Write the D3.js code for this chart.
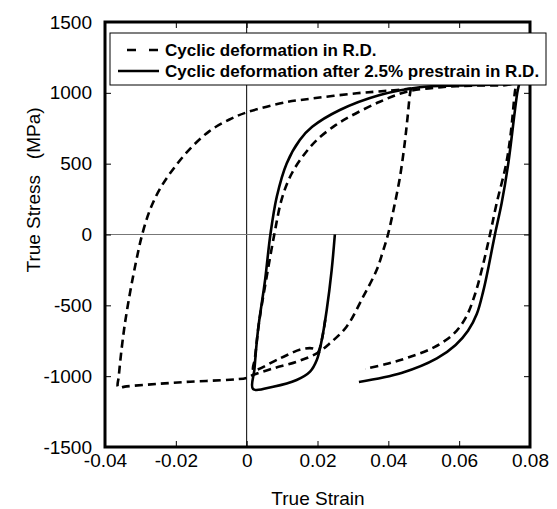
<!DOCTYPE html>
<html>
<head>
<meta charset="utf-8">
<script src="https://cdn.jsdelivr.net/npm/d3@7"></script>
<style>
  body { margin: 0; background: #fff; }
  text { font-family: "Liberation Sans", Arial, sans-serif; fill: #000; }
</style>
</head>
<body>
<div id="chart"></div>
<script>
// tick values
const xTicks = [-0.04, -0.02, 0, 0.02, 0.04, 0.06, 0.08];
const yTicks = [-1500, -1000, -500, 0, 500, 1000, 1500];

// dashed: cyclic deformation in R.D. -- large loop [strain, stress MPa]
const rdLoopA = [
    [0.0464, 1030], [0.0461, 990], [0.0454, 820], [0.0446, 640], [0.0433, 408],
    [0.0416, 190], [0.0399, 0], [0.0384, -125], [0.0367, -251], [0.0329, -439],
    [0.0282, -651], [0.0235, -768], [0.0198, -839], [0.0141, -898], [0.0075, -945],
    [0.0019, -990], [0, -1012], [-0.0047, -1025], [-0.016, -1039], [-0.0254, -1055],
    [-0.0339, -1072], [-0.0363, -1078], [-0.0361, -1000], [-0.0355, -850], [-0.0345, -650],
    [-0.033, -420], [-0.0313, -200], [-0.0295, 0], [-0.0272, 180], [-0.0243, 330],
    [-0.0205, 470], [-0.0158, 610], [-0.0105, 730], [-0.005, 810], [0, 862],
    [0.0113, 935], [0.0169, 955], [0.0311, 997], [0.040, 1015], [0.0464, 1030]
];

// dashed: later part of R.D. test
const rdLoopB = [
    [0.0222, -600], [0.0212, -745], [0.0201, -827], [0.0188, -805], [0.0155, -810],
    [0.0094, -874], [0.0019, -956], [0.0023, -880], [0.0035, -620], [0.0055, -320],
    [0.0078, 0], [0.0099, 250], [0.0125, 420], [0.0158, 550], [0.0198, 667],
    [0.025, 770], [0.0291, 832], [0.0376, 937], [0.0452, 1008], [0.055, 1040],
    [0.065, 1052], [0.0745, 1062], [0.0762, 1100], [0.0757, 1000], [0.0745, 700],
    [0.0732, 490], [0.0706, 222], [0.0687, 0], [0.0666, -227], [0.0645, -420],
    [0.062, -580], [0.0585, -700], [0.053, -795], [0.046, -865], [0.040, -910],
    [0.0335, -949]
];

// solid: cyclic deformation after 2.5% prestrain
const preLoop = [
    [0.0249, 0], [0.024, -251], [0.0226, -533], [0.0212, -745], [0.0198, -886],
    [0.0179, -968], [0.0141, -1027], [0.0075, -1074], [0.0018, -1091], [0.0022, -950],
    [0.0032, -675], [0.0052, -321], [0.0067, 0], [0.0085, 267], [0.0113, 502],
    [0.015, 667], [0.0185, 760], [0.0263, 879], [0.0376, 985], [0.0489, 1040],
    [0.06, 1052], [0.07, 1060], [0.0755, 1068], [0.0772, 1110], [0.0764, 1000],
    [0.0738, 490], [0.072, 222], [0.0701, 0], [0.0683, -227], [0.0668, -400],
    [0.065, -560], [0.0625, -680], [0.059, -780], [0.0537, -875], [0.0437, -978],
    [0.0317, -1041]
];

const legendLabels = [
    "Cyclic deformation in R.D.",
    "Cyclic deformation after 2.5% prestrain in R.D."
];

const W = 557, H = 509;
const pl = 105, pr = 530, pt = 22, pb = 447;

const svg = d3.select("#chart").append("svg")
    .attr("width", W)
    .attr("height", H);

const x = d3.scaleLinear().domain([-0.04, 0.08]).range([pl, pr]);
const y = d3.scaleLinear().domain([-1500, 1500]).range([pb, pt]);

// zero lines
svg.append("line")
    .attr("x1", x(0)).attr("x2", x(0))
    .attr("y1", pt).attr("y2", pb)
    .attr("stroke", "#000").attr("stroke-width", 1);
svg.append("line")
    .attr("x1", pl).attr("x2", pr)
    .attr("y1", y(0)).attr("y2", y(0))
    .attr("stroke", "#777").attr("stroke-width", 1.2);

// axes (ticks point inwards)
const fmtX = d => d === 0 ? "0" : d.toFixed(2);
const fmtY = d => String(d);

const gx = svg.append("g").attr("transform", `translate(0,${pb})`)
    .call(d3.axisBottom(x).tickValues(xTicks).tickFormat(fmtX)
        .tickSizeInner(-6).tickSizeOuter(0).tickPadding(7));
const gxt = svg.append("g").attr("transform", `translate(0,${pt})`)
    .call(d3.axisTop(x).tickValues(xTicks).tickFormat("")
        .tickSizeInner(-6).tickSizeOuter(0));
const gy = svg.append("g").attr("transform", `translate(${pl},0)`)
    .call(d3.axisLeft(y).tickValues(yTicks).tickFormat(fmtY)
        .tickSizeInner(-6).tickSizeOuter(0).tickPadding(13));
const gyr = svg.append("g").attr("transform", `translate(${pr},0)`)
    .call(d3.axisRight(y).tickValues(yTicks).tickFormat("")
        .tickSizeInner(-6).tickSizeOuter(0));

[gx, gxt, gy, gyr].forEach(g => {
    g.select(".domain").remove();
    g.selectAll("line").attr("stroke", "#000").attr("stroke-width", 1);
    g.selectAll("text")
        .attr("font-family", "'Liberation Sans', Arial, sans-serif")
        .attr("font-size", 19)
        .attr("fill", "#000");
});

// curves
const line = d3.line()
    .x(d => x(d[0]))
    .y(d => y(d[1]))
    .curve(d3.curveCatmullRom.alpha(0.5));

[rdLoopA, rdLoopB].forEach(s => {
    svg.append("path")
        .attr("d", line(s))
        .attr("fill", "none")
        .attr("stroke", "#000")
        .attr("stroke-width", 2.6)
        .attr("stroke-dasharray", "8,5");
});
svg.append("path")
    .attr("d", line(preLoop))
    .attr("fill", "none")
    .attr("stroke", "#000")
    .attr("stroke-width", 2.6);

// frame
svg.append("rect")
    .attr("x", pl).attr("y", pt)
    .attr("width", pr - pl).attr("height", pb - pt)
    .attr("fill", "none")
    .attr("stroke", "#000")
    .attr("stroke-width", 3);

// legend
const lg = svg.append("g");
lg.append("rect")
    .attr("x", 110).attr("y", 33)
    .attr("width", 436).attr("height", 52)
    .attr("fill", "#fff")
    .attr("stroke", "#000")
    .attr("stroke-width", 1);
lg.append("line")
    .attr("x1", 127).attr("x2", 158).attr("y1", 50).attr("y2", 50)
    .attr("stroke", "#000").attr("stroke-width", 2.6)
    .attr("stroke-dasharray", "9,13");
lg.append("line")
    .attr("x1", 118).attr("x2", 159).attr("y1", 71).attr("y2", 71)
    .attr("stroke", "#000").attr("stroke-width", 2.6);
lg.selectAll("text.lab")
    .data(legendLabels)
    .join("text")
    .attr("class", "lab")
    .attr("x", 165)
    .attr("y", (d, i) => 56 + i * 21)
    .attr("font-size", 17)
    .attr("font-weight", "bold")
    .text(d => d);

// axis titles
svg.append("text")
    .attr("x", 318).attr("y", 505)
    .attr("text-anchor", "middle")
    .attr("font-size", 19)
    .text("True Strain");
svg.append("text")
    .attr("transform", "translate(40,190) rotate(-90)")
    .attr("text-anchor", "middle")
    .attr("font-size", 19)
    .style("white-space", "pre")
    .text("True Stress   (MPa)");
</script>
</body>
</html>
